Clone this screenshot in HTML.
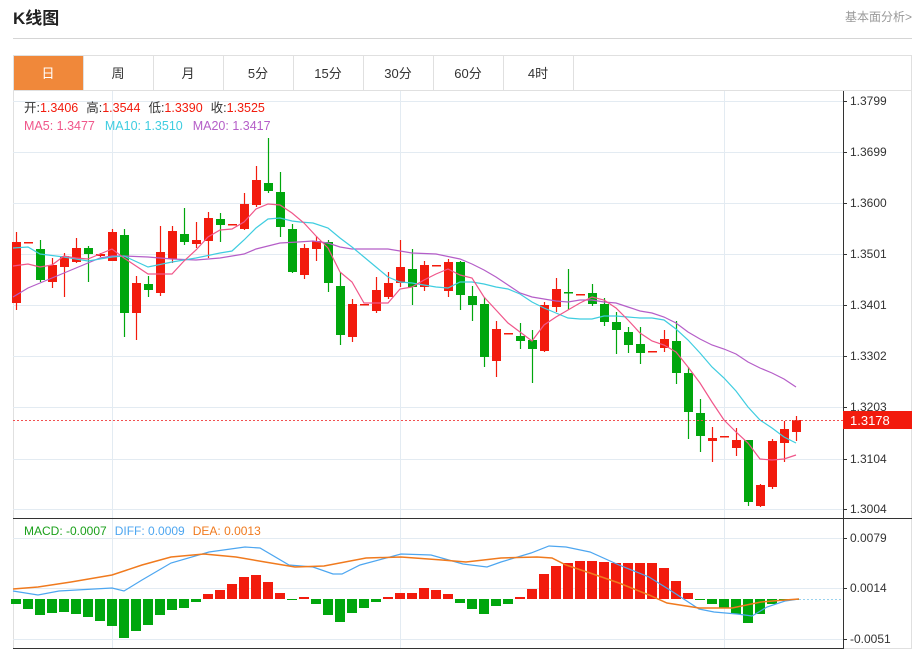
<!DOCTYPE html>
<html><head><meta charset="utf-8"><style>
body{margin:0;background:#fff;width:919px;height:650px;overflow:hidden;font-family:"Liberation Sans","Noto Sans CJK SC",sans-serif}
svg text{font-family:"Liberation Sans","Noto Sans CJK SC",sans-serif}
</style></head><body>
<svg id="s" width="919" height="650" xmlns="http://www.w3.org/2000/svg">
<text x="13" y="24" font-size="17" font-weight="bold" fill="#222">K线图</text>
<text x="912" y="21" font-size="12" fill="#999" text-anchor="end">基本面分析&gt;</text>
<line x1="13" y1="38.5" x2="912" y2="38.5" stroke="#d5d5d5"/>
<rect x="13.5" y="55.5" width="898" height="593" fill="none" stroke="#e0e0e0"/>
<rect x="14" y="56" width="69" height="34" fill="#f0883a"/>
<line x1="13" y1="90.5" x2="912" y2="90.5" stroke="#e0e0e0"/>
<g id="tabs" font-size="13" fill="#333" text-anchor="middle"></g>
<g id="g"></g>
</svg>
<script>
var s='';
var tabs=['日','周','月','5分','15分','30分','60分','4时'];
for(var i=0;i<8;i++){var x=13+70*i;s+='<text x="'+(x+35)+'" y="78" fill="'+(i==0?'#fff':'#333')+'" font-size="13" text-anchor="middle">'+tabs[i]+'</text>';
 s+='<line x1="'+(x+70.5)+'" y1="56" x2="'+(x+70.5)+'" y2="90" stroke="#e0e0e0"/>';}
// grids
[101,152,203,254,305,356,407,459,509].forEach(function(y){s+='<line x1="13" y1="'+(y+.5)+'" x2="843" y2="'+(y+.5)+'" stroke="#e3ebf2"/>';});
[538,588,639].forEach(function(y){s+='<line x1="13" y1="'+(y+.5)+'" x2="843" y2="'+(y+.5)+'" stroke="#e3ebf2"/>';});
[112,400,724].forEach(function(x){s+='<line x1="'+(x+.5)+'" y1="91" x2="'+(x+.5)+'" y2="648" stroke="#e3ebf2"/>';});
s+='<line x1="843.5" y1="91" x2="843.5" y2="649" stroke="#333"/>';
s+='<line x1="13" y1="518.5" x2="912" y2="518.5" stroke="#333"/>';
s+='<line x1="13" y1="648.5" x2="843" y2="648.5" stroke="#333"/>';
var lab=[['1.3799',101],['1.3699',152],['1.3600',203],['1.3501',254],['1.3401',305],['1.3302',356],['1.3203',407],['1.3104',459],['1.3004',509]];
lab.forEach(function(l){s+='<line x1="843" y1="'+(l[1]+.5)+'" x2="847" y2="'+(l[1]+.5)+'" stroke="#333"/><text x="850" y="'+(l[1]+4)+'" font-size="12" fill="#333">'+l[0]+'</text>';});
[['0.0079',538],['0.0014',588],['-0.0051',639]].forEach(function(l){s+='<line x1="843" y1="'+(l[1]+.5)+'" x2="847" y2="'+(l[1]+.5)+'" stroke="#333"/><text x="850" y="'+(l[1]+4)+'" font-size="12" fill="#333">'+l[0]+'</text>';});
// candles [bodyTop,bodyBot,wickTop,wickBot,color]
var C=[[242,303,232,310,'r'],[242,242,242,242,'r'],[249,280,240,282,'g'],[265,282,258,288,'r'],[256,267,253,297,'r'],[248,262,238,263,'r'],[248,254,246,282,'g'],[254,256,253,257,'r'],[232,261,229,261,'r'],[235,313,229,337,'g'],[283,313,276,340,'r'],[284,290,276,297,'g'],[252,293,226,296,'r'],[231,259,226,263,'r'],[234,242,208,245,'g'],[240,244,222,248,'r'],[218,241,212,258,'r'],[219,225,213,242,'g'],[224,224,224,224,'r'],[204,229,193,230,'r'],[180,205,166,207,'r'],[183,191,138,193,'g'],[192,227,172,237,'g'],[229,272,224,273,'g'],[248,275,244,279,'r'],[241,249,236,261,'r'],[242,283,240,292,'g'],[286,335,272,345,'g'],[304,337,299,342,'r'],[304,304,304,304,'r'],[290,311,277,313,'r'],[283,297,272,299,'r'],[267,283,240,287,'r'],[269,287,249,305,'g'],[265,287,261,291,'r'],[265,265,265,265,'r'],[262,291,259,297,'r'],[262,295,261,310,'g'],[296,305,286,321,'g'],[304,357,297,367,'g'],[329,361,321,377,'r'],[333,333,333,333,'r'],[336,341,323,349,'g'],[340,349,330,383,'g'],[305,351,302,352,'r'],[289,307,278,312,'r'],[292,293,269,310,'g'],[294,294,294,294,'r'],[293,304,284,306,'g'],[304,322,298,326,'g'],[322,330,312,354,'g'],[332,345,327,353,'g'],[344,353,327,364,'g'],[351,351,351,351,'r'],[339,348,330,352,'r'],[341,373,321,384,'g'],[373,412,367,439,'g'],[413,436,399,452,'g'],[438,441,427,462,'r'],[436,436,436,436,'r'],[440,448,428,456,'r'],[440,502,440,506,'g'],[485,506,484,507,'r'],[441,487,439,489,'r'],[429,443,421,462,'r'],[420,432,416,441,'r']];
C.forEach(function(c,i){var x=16+12*i,col=c[4]=='r'?'#f21b0d':'#00a60d';
 s+='<line x1="'+(x+.5)+'" y1="'+c[2]+'" x2="'+(x+.5)+'" y2="'+c[3]+'" stroke="'+col+'" stroke-width="1.2"/>';
 var h=Math.max(c[1]-c[0],1.5);s+='<rect x="'+(x-4)+'" y="'+c[0]+'" width="9" height="'+h+'" fill="'+col+'"/>';});
function pl(pts,col,w){s+='<polyline fill="none" stroke="'+col+'" stroke-width="'+(w||1.2)+'" points="'+pts.map(function(p){return p.join(',')}).join(' ')+'"/>';}
pl([[13,297],[28,288],[52,278],[76,268],[100,258],[112,256],[124,256],[148,257],[172,259],[196,260],[220,258],[244,254],[256,249],[280,243],[298,242],[313,241],[328,243],[340,247],[352,249],[388,249],[412,253],[436,254],[460,259],[472,264],[484,270],[496,277],[508,285],[520,293],[532,297],[544,299],[556,301],[568,302],[580,300],[592,300],[604,302],[616,303],[628,307],[640,311],[652,313],[664,317],[676,323],[688,332],[700,339],[712,345],[724,349],[736,354],[748,362],[760,368],[772,373],[784,379],[796,387]],'#b55ec8');
pl([[13,248],[28,247],[40,254],[64,257],[88,261],[112,257],[124,256],[148,267],[172,262],[196,258],[220,253],[232,251],[244,240],[256,228],[268,219],[280,218],[292,221],[300,222],[313,223],[328,228],[340,238],[352,247],[364,257],[376,267],[388,277],[400,282],[412,283],[424,285],[436,287],[448,288],[460,282],[472,282],[484,284],[496,287],[508,289],[520,294],[532,302],[544,308],[556,313],[568,318],[580,319],[592,319],[604,316],[616,316],[628,317],[640,318],[652,318],[664,320],[676,329],[688,340],[700,353],[712,367],[724,378],[736,391],[748,407],[760,420],[772,428],[784,437],[796,443]],'#3fcde0');
pl([[13,266],[28,264],[40,267],[52,265],[64,256],[76,258],[88,259],[100,254],[112,249],[124,258],[136,266],[148,274],[172,274],[184,261],[196,250],[208,237],[220,230],[232,229],[244,222],[256,209],[268,204],[280,205],[292,213],[304,223],[316,236],[328,248],[340,272],[352,282],[364,303],[388,303],[400,289],[412,287],[424,280],[436,274],[448,269],[460,275],[472,278],[484,297],[496,310],[508,323],[520,332],[532,341],[544,325],[556,317],[568,310],[580,303],[592,297],[604,300],[616,308],[628,320],[640,333],[652,341],[664,345],[676,352],[688,367],[700,383],[712,402],[724,420],[736,432],[748,443],[760,459],[772,460],[784,459],[796,455]],'#f0568a');
// price line
s+='<line x1="13" y1="420.5" x2="843" y2="420.5" stroke="#f25050" stroke-dasharray="2,2"/>';
s+='<rect x="843" y="411" width="69" height="18" fill="#f21b0d"/><text x="850" y="425" font-size="13" fill="#fff">1.3178</text>';
// MACD bars
var B=[604,609,615,613,612,614,617,621,626,638,631,625,615,610,608,602,594,590,584,577,575,582,593,600,597,604,615,622,613,608,602,597,593,593,588,590,594,603,609,614,606,604,597,589,574,566,563,561,561,562,563,563,563,563,568,581,593,600,604,608,614,623,614,604,601,599];
var z=599;
B.forEach(function(y,i){var x=16+12*i;var col=y<z?'#f21b0d':'#00a60d';var t=Math.min(y,z),h=Math.max(Math.abs(y-z),1);s+='<rect x="'+(x-5)+'" y="'+t+'" width="10" height="'+h+'" fill="'+col+'"/>';});
s+='<line x1="799" y1="599.5" x2="843" y2="599.5" stroke="#9cd3ef" stroke-dasharray="2,2"/>';
pl([[13,591],[38,595],[59,591],[112,588],[124,591],[142,580],[171,563],[209,552],[245,547],[260,548],[289,565],[313,567],[333,574],[342,574],[360,565],[401,554],[431,555],[463,564],[487,567],[501,562],[531,553],[549,546],[566,547],[590,552],[619,565],[649,577],[673,592],[699,609],[714,612],[737,614],[752,616],[767,607],[785,601],[799,599]],'#4da6f0');
pl([[13,589],[38,587],[71,582],[112,575],[142,565],[171,557],[204,554],[236,557],[265,562],[295,567],[324,566],[366,558],[401,557],[442,560],[466,562],[501,558],[537,557],[552,558],[566,565],[590,573],[619,583],[649,595],[667,603],[699,608],[732,608],[761,602],[785,600],[799,599]],'#f07a1e',1.5);
// legends
s+='<text x="24" y="112" font-size="12.5"><tspan fill="#333">开:</tspan><tspan fill="#f21b0d">1.3406</tspan><tspan fill="#333" dx="8">高:</tspan><tspan fill="#f21b0d">1.3544</tspan><tspan fill="#333" dx="8">低:</tspan><tspan fill="#f21b0d">1.3390</tspan><tspan fill="#333" dx="8">收:</tspan><tspan fill="#f21b0d">1.3525</tspan></text>';
s+='<text x="24" y="130" font-size="12.5"><tspan fill="#f0568a">MA5: 1.3477</tspan><tspan fill="#3fcde0" dx="10">MA10: 1.3510</tspan><tspan fill="#b55ec8" dx="10">MA20: 1.3417</tspan></text>';
s+='<text x="24" y="535" font-size="12"><tspan fill="#1aa01a">MACD: -0.0007</tspan><tspan fill="#4da6f0" dx="8">DIFF: 0.0009</tspan><tspan fill="#f07a1e" dx="8">DEA: 0.0013</tspan></text>';
document.getElementById('g').innerHTML=s;
</script>
</body></html>
